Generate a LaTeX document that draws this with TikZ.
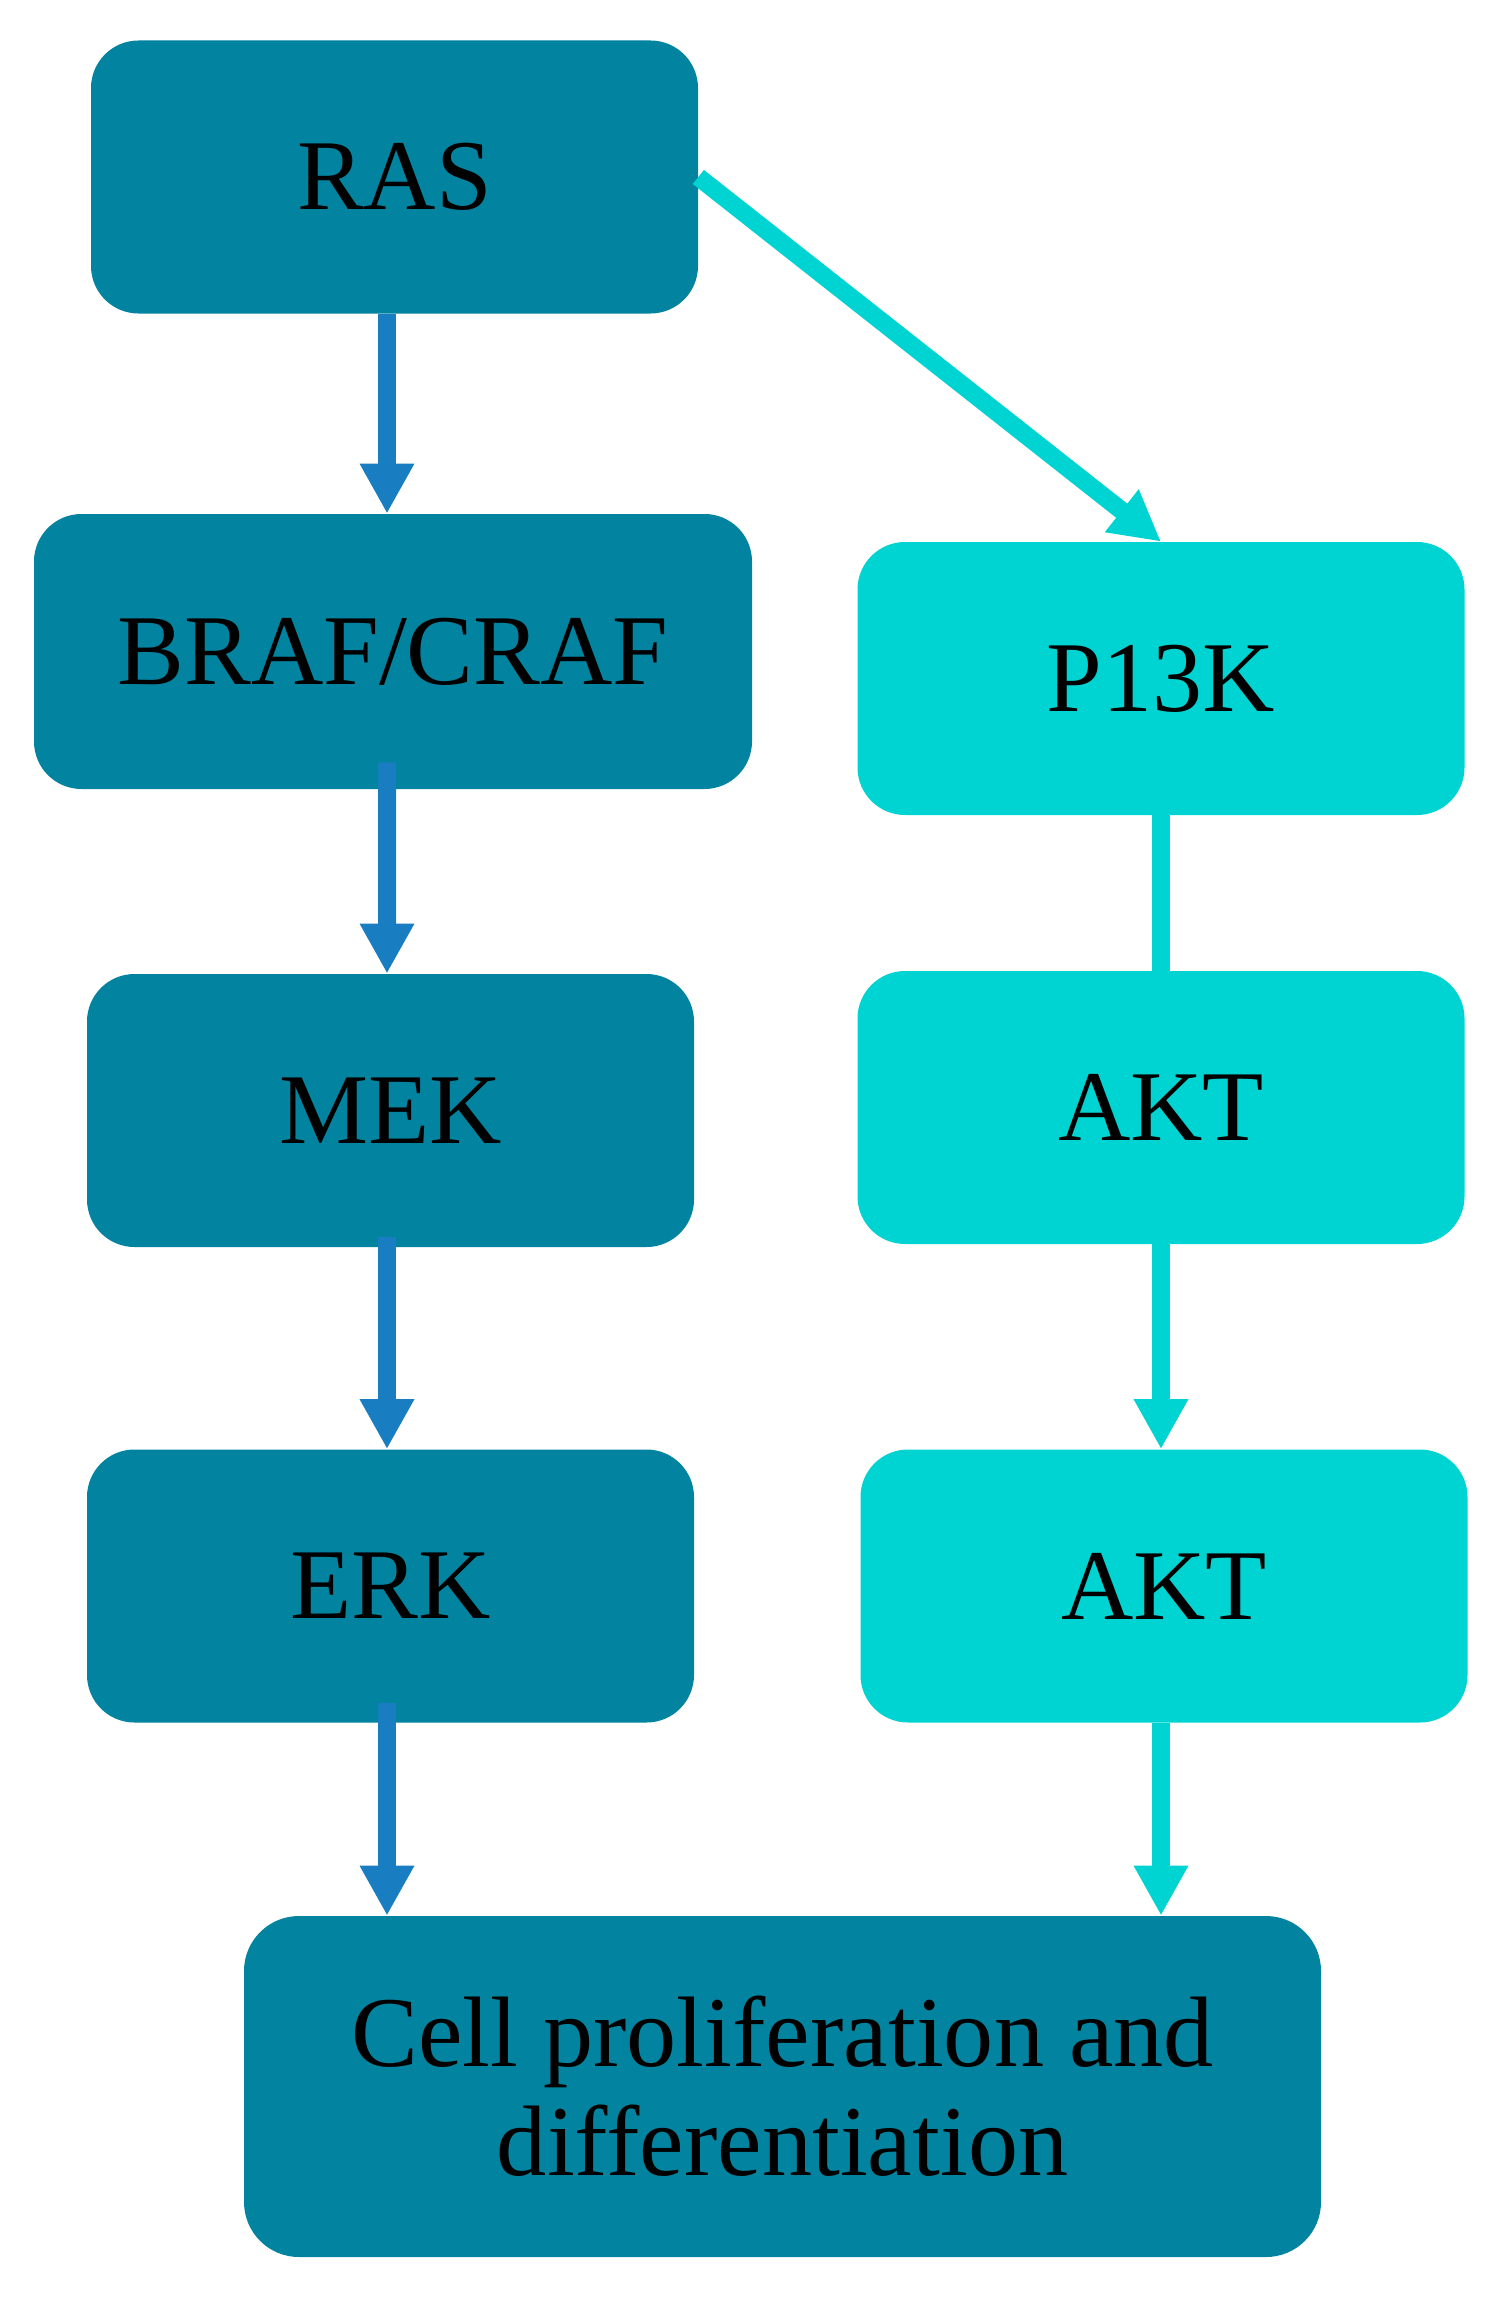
\documentclass[tikz,border=0pt]{standalone}
\usepackage{fontspec}
\setmainfont{Liberation Serif}
\usetikzlibrary{arrows.meta,positioning}
\definecolor{tealbox}{RGB}{2,131,159}
\definecolor{cyanbox}{RGB}{0,212,210}
\definecolor{mapkblue}{RGB}{24,125,193}

\begin{document}
\begin{tikzpicture}[
    box/.style={
        fill=tealbox,draw=none,rounded corners=0.95cm,
        align=center,inner sep=0pt,text=black,
        font=\fontsize{57}{62}\selectfont,
        minimum width=12.14cm,minimum height=5.46cm
    },
    pibox/.style={box,fill=cyanbox},
    arrow/.style={-{Triangle[width=1.02cm,length=1cm]},line width=0.36cm,draw=mapkblue},
    piarrow/.style={arrow,draw=cyanbox}
]
% Canvas fixed to the proportions of the original figure.
\path[use as bounding box] (0,0) rectangle (30.18,-46.1);

% MAPK branch on the left
\node[box] (ras) at (7.89,-3.54) {RAS};
\node[box,minimum width=14.36cm,minimum height=5.5cm] (braf) at (7.86,-13.03) {BRAF/CRAF};
\node[box] (mek) at (7.81,-22.21) {MEK};
\node[box] (erk) at (7.81,-31.72) {ERK};

% PI3K branch on the right
\node[pibox] (p13k) at (23.22,-13.57) {P13K};
\node[pibox] (akt) at (23.22,-22.15) {AKT};
\node[pibox] (akttwo) at (23.28,-31.72) {AKT};

\node[box,rounded corners=1.1cm,minimum width=21.54cm,minimum height=6.82cm] (cell)
    at (15.65,-41.73) {Cell proliferation and\\differentiation};

\draw[arrow] ([xshift=-0.15cm]ras.south) -- ([xshift=-0.12cm]braf.north);
\draw[arrow] ([xshift=-0.12cm,yshift=0.54cm]braf.south) -- ([xshift=-0.07cm]mek.north);
\draw[arrow] ([xshift=-0.07cm,yshift=0.2cm]mek.south) -- ([xshift=-0.07cm]erk.north);
\draw[arrow] ([xshift=-0.07cm,yshift=0.4cm]erk.south) -- ([xshift=-0.07cm]erk.south |- cell.north);

\draw[piarrow] (ras.east) -- (p13k.north);
\draw[piarrow,-] (p13k.south) -- (akt.north);
\draw[piarrow] (akt.south) -- (akt.south |- akttwo.north);
\draw[piarrow] ([xshift=-0.06cm]akttwo.south) -- ([xshift=-0.06cm]akttwo.south |- cell.north);
\end{tikzpicture}
\end{document}
